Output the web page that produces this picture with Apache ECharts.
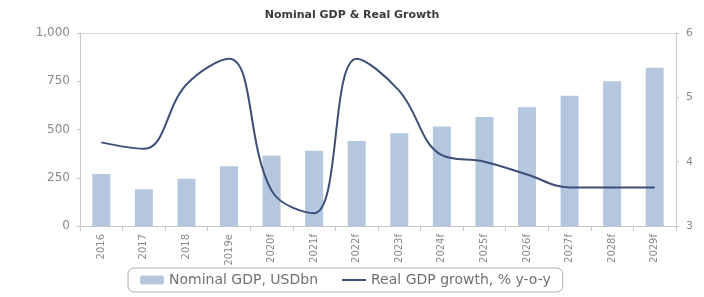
<!DOCTYPE html>
<html>
<head>
<meta charset="utf-8">
<script src="https://cdn.jsdelivr.net/npm/echarts@6/dist/echarts.min.js"></script>
<style>
  html, body { margin: 0; padding: 0; background: #fff; }
  #chart { width: 704px; height: 297px; }
</style>
</head>
<body>
<div id="chart"></div>
<script>
// categories and values
const years = ['2016', '2017', '2018', '2019e', '2020f', '2021f', '2022f', '2023f', '2024f', '2025f', '2026f', '2027f', '2028f', '2029f'];
const nominalGdp = [270, 190, 245, 310, 365, 390, 440, 480, 515, 565, 615, 675, 750, 820];
const realGrowth = [4.3, 4.2, 5.2, 5.6, 3.55, 3.2, 5.6, 5.1, 4.1, 4.0, 3.8, 3.6, 3.6, 3.6];
const leftTicks = [0, 250, 500, 750, 1000];
const rightTicks = [3, 4, 5, 6];

const axisGrey = '#c8c8c8';
const labelGrey = '#8a8a8a';
const lineBlue = '#3c4f78';

const chart = echarts.init(document.getElementById('chart'));
chart.setOption({
  animation: false,
  title: {
    text: 'Nominal GDP & Real Growth',
    left: 'center',
    top: 5,
    textStyle: { fontFamily: 'DejaVu Sans', fontSize: 11, fontWeight: 'bold', color: '#3a3a3a' }
  },
  grid: { left: 80, right: 28, top: 33, bottom: 71 },
  legend: {
    bottom: 5,
    left: 128,
    itemWidth: 24,
    itemHeight: 9,
    itemGap: 24,
    borderColor: '#b0b0b0',
    borderWidth: 1,
    borderRadius: 6,
    padding: [5, 12],
    textStyle: { fontFamily: 'DejaVu Sans', fontSize: 14, color: '#707070' },
    data: [
      { name: 'Nominal GDP, USDbn' },
      { name: 'Real GDP growth, % y-o-y', icon: 'path://M0,0H24V2H0Z' }
    ]
  },
  xAxis: [
    {
      type: 'category',
      data: years,
      axisLine: { lineStyle: { color: axisGrey } },
      axisTick: { show: true, lineStyle: { color: axisGrey } },
      axisLabel: { rotate: 90, color: labelGrey, fontFamily: 'DejaVu Sans', fontSize: 10, margin: 8 }
    },
    {
      type: 'category',
      data: years,
      position: 'top',
      axisLine: { lineStyle: { color: '#dcdcdc' } },
      axisTick: { show: false },
      axisLabel: { show: false }
    }
  ],
  yAxis: [
    {
      type: 'value',
      min: leftTicks[0],
      max: leftTicks[leftTicks.length - 1],
      interval: 250,
      axisLine: { show: true, lineStyle: { color: axisGrey } },
      axisTick: { show: true, length: 3, lineStyle: { color: axisGrey } },
      splitLine: { show: false },
      axisLabel: {
        color: labelGrey, fontFamily: 'DejaVu Sans', fontSize: 12, margin: 10,
        formatter: v => v.toLocaleString('en-US')
      }
    },
    {
      type: 'value',
      min: rightTicks[0],
      max: rightTicks[rightTicks.length - 1],
      interval: 1,
      position: 'right',
      axisLine: { show: true, lineStyle: { color: axisGrey } },
      axisTick: { show: true, length: 3, lineStyle: { color: axisGrey } },
      splitLine: { show: false },
      axisLabel: { color: labelGrey, fontFamily: 'DejaVu Sans', fontSize: 11, margin: 10 }
    }
  ],
  series: [
    {
      name: 'Nominal GDP, USDbn',
      type: 'bar',
      data: nominalGdp,
      barWidth: 18,
      itemStyle: { color: '#b5c6df' }
    },
    {
      name: 'Real GDP growth, % y-o-y',
      type: 'line',
      yAxisIndex: 1,
      data: realGrowth,
      smooth: 0.4,
      symbol: 'none',
      lineStyle: { color: lineBlue, width: 2 },
      itemStyle: { color: lineBlue }
    }
  ]
});
</script>
</body>
</html>
